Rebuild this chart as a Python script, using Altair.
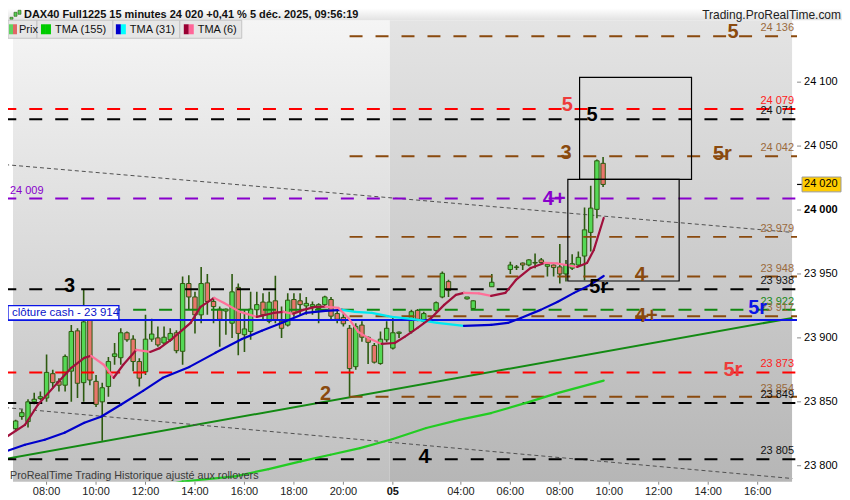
import altair as alt
import pandas as pd

FONT = "Liberation Sans"
PLOT_W, PLOT_H = 790, 462
X_DOMAIN = [-5.43, 120.56]
Y_DOMAIN = [23787.5, 24148.4]
SESSION_SPLIT = 55.5   # between 4 déc. 21:45 and first bar of 5 déc.

# ---------------- data ----------------
title_text = "DAX40 Full1225 15 minutes 24 020 +0,41 % 5 déc. 2025, 09:56:19"
site_text = "Trading.ProRealTime.com"
watermark = "ProRealTime Trading  Historique ajusté aux rollovers"

# x = 15-minute bar index (0 = 4 déc. 08:00, 56 = first bar of 5 déc.)
tick_idx = [0, 8, 16, 24, 32, 40, 48, 56, 67, 75, 83, 91, 99, 107, 115]
tick_lab = ["08:00", "10:00", "12:00", "14:00", "16:00", "18:00", "20:00", "05",
            "04:00", "06:00", "08:00", "10:00", "12:00", "14:00", "16:00"]
day_tick = 56
y_ticks = [23800, 23850, 23900, 23950, 24000, 24050, 24100]
bold_y_tick = 24000

c_idx = [-5, -4, -3, -2, -1, 0, 1, 2, 3, 4,
         5, 6, 7, 8, 9, 10, 11, 12, 13, 14,
         15, 16, 17, 18, 19, 20, 21, 22, 23, 24,
         25, 26, 27, 28, 29, 30, 31, 32, 33, 34,
         35, 36, 37, 38, 39, 40, 41, 42, 43, 44,
         45, 46, 47, 48, 49, 50, 51, 52, 53, 54,
         55, 56, 57, 59, 60, 61, 63, 64, 65, 68,
         69, 72, 75, 76, 77, 78, 79, 80, 81, 82,
         83, 84, 85, 86, 87, 88, 89, 90]
c_open = [23829, 23838.5, 23834.5, 23850, 23852.5, 23853, 23872, 23866, 23863, 23874,
          23905.5, 23865, 23914, 23866, 23850, 23862, 23885.5, 23884.5, 23904, 23899,
          23881.5, 23873.5, 23899, 23900, 23896, 23898.5, 23904, 23889.5, 23942.5, 23932,
          23918, 23943, 23928.5, 23922.5, 23921, 23911.5, 23939.5, 23902.5, 23905, 23922,
          23928, 23913, 23929, 23913, 23910, 23930, 23929, 23925, 23924.5, 23923,
          23926, 23930, 23919, 23916, 23907.5, 23877.5, 23910, 23900.5, 23894, 23880,
          23898.5, 23892, 23903.5, 23905, 23921.5, 23913, 23921.5, 23932, 23944, 23930.5,
          23923, 23940, 23953.5, 23955, 23958.5, 23957, 23958.5, 23961, 23956, 23957,
          23955.5, 23950, 23954.5, 23957, 23964, 23982.5, 24000.5, 24036.5]
c_high = [23836, 23844, 23852, 23857, 23858, 23887, 23875, 23868.5, 23887, 23910,
          23907.5, 23937.5, 23918, 23871, 23865, 23885, 23896, 23907.5, 23905, 23902,
          23884, 23918, 23915, 23909, 23909, 23907.5, 23906, 23948, 23949, 23936,
          23955.5, 23950, 23932, 23924.5, 23923, 23950, 23942.5, 23922, 23936, 23936,
          23935, 23936, 23948.5, 23924.5, 23935, 23935, 23935, 23932, 23928.5, 23927,
          23933, 23932, 23922, 23919, 23910, 23911.5, 23913, 23901, 23896, 23905,
          23913, 23915.5, 23905, 23922, 23922.5, 23920.5, 23928.5, 23952, 23945.5, 23932,
          23929.5, 23950, 23959.5, 23957, 23959, 23961.5, 23966, 23962.5, 23958.5, 23957.5,
          23973.5, 23961, 23965.5, 23967.5, 24002, 24019, 24039.5, 24041.5]
c_low = [23827, 23836, 23830, 23848, 23851.5, 23850, 23860.5, 23858, 23858, 23850,
         23853, 23850, 23863, 23846, 23819.5, 23854, 23879, 23879, 23897, 23874,
         23862, 23871, 23897, 23893, 23894.5, 23897, 23888, 23879, 23922, 23903.5,
         23911.5, 23918, 23911.5, 23893, 23902.5, 23900, 23886.5, 23889, 23898.5, 23916.5,
         23914, 23911.5, 23911.5, 23900, 23909, 23916.5, 23918, 23918, 23918, 23911.5,
         23924.5, 23914, 23911.5, 23909, 23854, 23875, 23897, 23879.5, 23880, 23879,
         23896.5, 23891, 23900, 23903.5, 23913, 23911.5, 23920.5, 23931, 23932, 23930,
         23923, 23940, 23950, 23953, 23953, 23956, 23954.5, 23958, 23948, 23948,
         23942.5, 23944, 23953, 23955.5, 23945, 23967.5, 23993.5, 24018]
c_close = [23835, 23841.5, 23850, 23852, 23854, 23873, 23865, 23863, 23885.5, 23905,
           23864.5, 23912.5, 23867, 23848, 23861, 23881.5, 23887.5, 23904, 23898.5, 23881.5,
           23868.5, 23899, 23903, 23894.5, 23900.5, 23903.5, 23890, 23942.5, 23932, 23918,
           23942.5, 23928.5, 23924.5, 23914.5, 23922.5, 23936, 23903.5, 23907, 23922.5, 23926,
           23918, 23928, 23914, 23907.5, 23929.5, 23919.5, 23926, 23927, 23926, 23926,
           23932, 23917, 23914.5, 23911, 23876, 23909, 23900.5, 23896.5, 23881, 23899,
           23907.5, 23904, 23904.5, 23920.5, 23914.5, 23919, 23927.5, 23950.5, 23937, 23932,
           23929, 23943.5, 23957, 23955.5, 23957, 23961, 23959, 23959, 23957.5, 23955,
           23950, 23957, 23958, 23963, 23984.5, 24001.5, 24038.5, 24020]

# moving averages
t6_idx = [-6.7, -3.5, -1.4, 1.75, 4.0, 6.1, 7.2, 9.25, 10.85, 12.4, 14.5, 16.75, 18.3, 20.1, 23.3,
          24.9, 27.1, 28.7, 31.3, 34, 36.7, 38.3, 39.9, 41.5, 43.5, 45.1, 47.2, 48.8, 50.4, 52,
          54.2, 56.3, 57.9, 60, 62.2, 64.3, 66.2, 67.5, 69.9, 71.9, 74.2, 75.9, 78.3, 80.5, 82.6,
          85.8, 87.4, 88.5, 89.5, 90.1]
t6_val = [23821.9, 23832, 23847.7, 23864.8, 23876.6, 23884.4, 23886, 23879, 23868.8, 23879,
          23890.6, 23889, 23892, 23898.4, 23911.7, 23924.2, 23931.3, 23927.3, 23920.3, 23916.4,
          23919.5, 23920.3, 23918.8, 23921.9, 23924.2, 23924.4, 23923.4, 23915.6, 23904.7, 23900,
          23895.3, 23896, 23900.8, 23907.8, 23915.6, 23925.8, 23933.6, 23935.2, 23934.8, 23932.8,
          23935.2, 23945.3, 23954.7, 23958.6, 23958.2, 23955.5, 23958.6, 23968.8, 23984.4, 23993.8]
t31_idx = [-6.7, -3.5, -0.3, 2.9, 6.1, 8.8, 12, 15.6, 18.8, 23.1, 27.3, 31.6, 34.8, 38, 41.9,
           45.1, 47.8, 49.9, 52.6, 55.8, 59, 63.2, 67.5, 71.9, 74.6, 76.7, 79.9, 82.6, 85.3, 87.9, 90.1]
t31_val = [23811, 23816.4, 23820.3, 23825.8, 23833.6, 23838.3, 23847.7, 23858.6, 23868.75, 23877.3,
           23888.3, 23899.2, 23905.5, 23911.7, 23919.5, 23921.1, 23921.9, 23920.3, 23919.5, 23916.4,
           23914.8, 23911.7, 23909.4, 23910.2, 23911.7, 23915.6, 23921.9, 23928.1, 23935.2, 23941.4, 23948.4]
t155_idx = [20.4, 22.0, 30.5, 35.9, 41.1, 45.9, 50.7, 56.0, 61.4, 66.7, 71.9, 77.4, 82.6, 90.1]
t155_val = [23786, 23787.7, 23791.7, 23797.4, 23803.4, 23808.6, 23813.8, 23820.9, 23829.5,
            23835.9, 23841.2, 23849, 23856.8, 23866.6]

# trend lines (two end points each)
tr_name = ["green", "dot_hi", "dot_lo"]
tr_idx0 = [-6.7, -6.7, -6.7]
tr_idx1 = [120.6, 120.6, 120.6]
tr_val0 = [23805.2, 24035.5, 23845.5]
tr_val1 = [23915.6, 23982.5, 23790.0]

# horizontal levels
lvl_val = [24136, 24079, 24071, 24042, 24009, 23979, 23948, 23938, 23922, 23917, 23914, 23873, 23854, 23849, 23805]
lvl_kind = ["brown", "red", "black", "brown", "purple", "brown", "brown", "black", "green", "brown",
            "blue", "red", "brown", "black", "black"]
lvl_start = [49, -7, -7, 49, -7, 49, 49, -7, -7, 49, -7, -7, 49, -7, -7]

# labels at right end of levels
rl_val = [24136, 24079, 24071, 24042, 23979, 23948, 23938, 23922, 23917, 23873, 23854, 23849, 23805]
rl_kind = ["brown", "red", "black", "brown", "brown", "brown", "black", "green", "brown", "red",
           "brown", "black", "black"]

# big level names
bl_txt = ["5", "5", "5", "3", "5r", "4+", "4", "5r", "4+", "5r", "5r", "2", "3", "4"]
bl_idx = [111.0, 84.2, 88.2, 84.0, 109.3, 82.1, 96.0, 89.3, 97.0, 115.0, 111.0, 45.1, 3.7, 61.1]
bl_val = [24136, 24079, 24071, 24042, 24042, 24009, 23948, 23938, 23917, 23922, 23873, 23854, 23938, 23805]
bl_kind = ["brown", "red", "black", "brown", "brown", "purple", "brown", "black", "brown", "blue",
           "red", "brown", "black", "black"]

# zone boxes
bx_idx0 = [86.2, 84.3]
bx_idx1 = [104.3, 102.3]
bx_val0 = [24024, 23944.5]
bx_val1 = [24103.7, 24024]

last_price = 24020
cash_close = 23914
left_level = 24009

# legend
lg_names = ["Prix", "TMA (155)", "TMA (31)", "TMA (6)"]
lg_col_a = ["#5fd35f", "#00cc00", "#0000cc", "#990033"]
lg_col_b = ["#e06666", "#00cc00", "#00ffff", "#ff6699"]

# ---------------- styles / layout ----------------
LINE_COL = {"brown": "#8a4a0e", "red": "#ff0000", "black": "#000000", "purple": "#8800cc",
            "green": "#118811", "blue": "#0a14e6"}
LABEL_COL = {"brown": "#9a6a3c", "red": "#ff2020", "black": "#111111", "purple": "#8800cc",
             "green": "#1a8a1a", "blue": "#0a14e6"}
BIG_COL = {"brown": "#8a4a0e", "red": "#ee3b3b", "black": "#000000", "purple": "#8800cc",
           "green": "#118811", "blue": "#0a14e6"}
BIG_OFF = {"5": -4, "3": -3, "5r": -2, "4+": 0, "4": -2, "2": -3}
WICK = "#2d5a10"
LG_X0 = [0, 29, 105, 172]
LG_X1 = [29, 105, 172, 234]
LG_SW = [1, 33, 108, 176]
LG_SWW = [8, 10, 10, 10]
LG_TX = [11, 47, 122, 190]


def sp(v):
    s = "%d" % v
    return s[:-3] + " " + s[-3:]


xs = alt.Scale(domain=X_DOMAIN, nice=False, zero=False)
ys = alt.Scale(domain=Y_DOMAIN, nice=False, zero=False)


def X(f):
    return alt.X(f, scale=xs, axis=None)


def Y(f):
    return alt.Y(f, scale=ys, axis=None)


def grad(top, bottom):
    return alt.Gradient(gradient="linear",
                        stops=[alt.GradientStop(color=top, offset=0), alt.GradientStop(color=bottom, offset=1)],
                        x1=0, x2=0, y1=0, y2=1)


def one(**kw):
    return alt.Chart(pd.DataFrame({k: [v] for k, v in kw.items()} or {"k": [0]}))


layers = []

# background
bg = pd.DataFrame({"x0": [X_DOMAIN[0], SESSION_SPLIT], "x1": [SESSION_SPLIT, X_DOMAIN[1]]})
layers.append(alt.Chart(bg.iloc[[0]]).mark_rect(fill=grad("#f5f5f5", "#c0c0c0")).encode(
    x=X("x0:Q"), x2="x1:Q", y=alt.value(0), y2=alt.value(PLOT_H)))
layers.append(alt.Chart(bg.iloc[[1]]).mark_rect(fill=grad("#e4e4e4", "#b6b6b6")).encode(
    x=X("x0:Q"), x2="x1:Q", y=alt.value(0), y2=alt.value(PLOT_H)))

# trend lines
tr = pd.DataFrame({"name": tr_name, "i0": tr_idx0, "i1": tr_idx1, "v0": tr_val0, "v1": tr_val1})
layers.append(alt.Chart(tr[tr.name == "green"]).mark_rule(color="#138a13", strokeWidth=2, clip=True).encode(
    x=X("i0:Q"), x2="i1:Q", y=Y("v0:Q"), y2="v1:Q"))
layers.append(alt.Chart(tr[tr.name != "green"]).mark_rule(color="#505050", strokeWidth=1, strokeDash=[4, 3], clip=True).encode(
    x=X("i0:Q"), x2="i1:Q", y=Y("v0:Q"), y2="v1:Q"))

# candles
cd = pd.DataFrame({"idx": c_idx, "open": c_open, "high": c_high, "low": c_low, "close": c_close})
cd["dir"] = ["up" if c >= o else "down" for o, c in zip(c_open, c_close)]
layers.append(alt.Chart(cd).mark_rule(color=WICK, strokeWidth=1.6, clip=True).encode(
    x=X("idx:Q"), y=Y("low:Q"), y2="high:Q"))
layers.append(alt.Chart(cd).mark_bar(size=4.4, stroke=WICK, strokeWidth=1, clip=True).encode(
    x=X("idx:Q"), y=Y("open:Q"), y2="close:Q",
    color=alt.Color("dir:N", scale=alt.Scale(domain=["up", "down"], range=["#55d855", "#e8766c"]), legend=None)))

# levels
lv = pd.DataFrame({"val": lvl_val, "start": lvl_start,
                   "col": [LINE_COL[k] for k in lvl_kind],
                   "style": ["solid" if k == "blue" else "dash" for k in lvl_kind]})
layers.append(alt.Chart(lv).mark_rule(strokeWidth=2, clip=True).encode(
    x=X("start:Q"), x2=alt.value(PLOT_W), y=Y("val:Q"),
    color=alt.Color("col:N", scale=None),
    strokeDash=alt.StrokeDash("style:N", scale=alt.Scale(domain=["dash", "solid"], range=[[13, 13], [1, 0]]), legend=None)))


# moving averages as coloured segments (rising / falling)
def segs(name, xi, vv, up, dn):
    rows = []
    for i in range(len(xi) - 1):
        col = up if vv[i + 1] >= vv[i] else dn
        for j in (i, i + 1):
            rows.append({"seg": "%s%d" % (name, i), "idx": xi[j], "val": vv[j], "col": col})
    return rows


ma = pd.DataFrame(segs("a", t155_idx, t155_val, "#22cc22", "#22cc22") +
                  segs("b", t31_idx, t31_val, "#0000cc", "#00e8f0") +
                  segs("c", t6_idx, t6_val, "#a0103c", "#ff7099"))
layers.append(alt.Chart(ma).mark_line(strokeWidth=2.2, strokeCap="round", clip=True).encode(
    x=X("idx:Q"), y=Y("val:Q"), detail="seg:N", color=alt.Color("col:N", scale=None)))

# zone boxes
bx = pd.DataFrame({"i0": bx_idx0, "i1": bx_idx1, "v0": bx_val0, "v1": bx_val1})
layers.append(alt.Chart(bx).mark_rect(fillOpacity=0, stroke="#000000", strokeWidth=1.2, clip=True).encode(
    x=X("i0:Q"), x2="i1:Q", y=Y("v0:Q"), y2="v1:Q"))

# right-end value labels
rl = pd.DataFrame({"val": rl_val, "txt": [sp(v) for v in rl_val],
                   "col": [LABEL_COL[k] for k in rl_kind]})
layers.append(alt.Chart(rl).mark_text(font=FONT, fontSize=11, align="right", baseline="middle", dy=-8).encode(
    x=alt.value(PLOT_W - 3), y=Y("val:Q"), text="txt:N", color=alt.Color("col:N", scale=None)))

# big level names (grouped by vertical nudge)
bl = pd.DataFrame({"txt": bl_txt, "idx": bl_idx, "val": bl_val,
                   "col": [BIG_COL[k] for k in bl_kind], "off": [BIG_OFF[t] for t in bl_txt]})
for off in sorted(set(bl["off"])):
    layers.append(alt.Chart(bl[bl.off == off]).mark_text(
        font=FONT, fontSize=20, fontWeight="bold", align="center", baseline="middle", dy=off).encode(
        x=X("idx:Q"), y=Y("val:Q"), text="txt:N", color=alt.Color("col:N", scale=None)))

# left labels
lft = pd.DataFrame({"val": [left_level], "txt": [sp(left_level)]})
layers.append(alt.Chart(lft).mark_text(font=FONT, fontSize=11, align="left", baseline="middle", dy=-8,
                                       color="#8800cc").encode(x=alt.value(2), y=Y("val:Q"), text="txt:N"))
cash = pd.DataFrame({"v0": [cash_close], "v1": [cash_close + 11.2], "vm": [cash_close + 5.6],
                     "txt": ["clôture cash -  " + sp(cash_close)]})
layers.append(alt.Chart(cash).mark_rect(fill="white", stroke="#0a14e6", strokeWidth=1.3).encode(
    x=alt.value(0), x2=alt.value(111), y=Y("v0:Q"), y2="v1:Q"))
layers.append(alt.Chart(cash).mark_text(font=FONT, fontSize=11.5, align="left", baseline="middle", color="#0a14c8").encode(
    x=alt.value(4), y=Y("vm:Q"), text="txt:N"))

# watermark
layers.append(one(t=watermark).mark_text(
    font=FONT, fontSize=10.8, align="left", baseline="middle", color="#3a3a3a").encode(
    x=alt.value(2), y=alt.value(PLOT_H - 6), text="t:N"))

# ---- axes drawn from the tick lists through the scales ----
xt = pd.DataFrame({"i": tick_idx, "t": tick_lab})
xt["bold"] = [i == day_tick for i in tick_idx]
layers.append(alt.Chart(xt).mark_rule(color="#8a8a8a", strokeWidth=1).encode(
    x=X("i:Q"), y=alt.value(PLOT_H), y2=alt.value(PLOT_H + 3)))
layers.append(alt.Chart(xt[~xt.bold]).mark_text(font=FONT, fontSize=11, baseline="middle", color="#222222").encode(
    x=X("i:Q"), y=alt.value(PLOT_H + 10), text="t:N"))
layers.append(alt.Chart(xt[xt.bold]).mark_text(font=FONT, fontSize=11, fontWeight="bold", baseline="middle",
                                               color="#111111").encode(
    x=X("i:Q"), y=alt.value(PLOT_H + 10), text="t:N"))

yt = pd.DataFrame({"v": y_ticks, "t": [sp(v) for v in y_ticks]})
yt["bold"] = [v == bold_y_tick for v in y_ticks]
layers.append(alt.Chart(yt).mark_rule(color="#8a8a8a", strokeWidth=1).encode(
    x=alt.value(PLOT_W), x2=alt.value(PLOT_W + 4), y=Y("v:Q")))
layers.append(alt.Chart(yt[~yt.bold]).mark_text(font=FONT, fontSize=11, align="left", baseline="middle",
                                                color="#000000").encode(
    x=alt.value(PLOT_W + 7), y=Y("v:Q"), text="t:N"))
layers.append(alt.Chart(yt[yt.bold]).mark_text(font=FONT, fontSize=11, fontWeight="bold", align="left",
                                               baseline="middle", color="#000000").encode(
    x=alt.value(PLOT_W + 7), y=Y("v:Q"), text="t:N"))

# current price on axis
lp = pd.DataFrame({"v": [last_price], "v0": [last_price - 5.8], "v1": [last_price + 5.8],
                   "txt": [sp(last_price)]})
layers.append(alt.Chart(lp).mark_rule(color="black", strokeWidth=1.2).encode(
    x=alt.value(PLOT_W), x2=alt.value(PLOT_W + 5), y=Y("v:Q")))
layers.append(alt.Chart(lp).mark_rect(fill="#ffcc00", stroke="#9a9a9a", strokeWidth=1).encode(
    x=alt.value(PLOT_W + 5), x2=alt.value(PLOT_W + 44), y=Y("v0:Q"), y2="v1:Q"))
layers.append(alt.Chart(lp).mark_text(font=FONT, fontSize=11, align="left", baseline="middle", color="black").encode(
    x=alt.value(PLOT_W + 7), y=Y("v:Q"), text="txt:N"))

# header strip
layers.append(one().mark_rect(fill=grad("#ffffff", "#e2e2e2")).encode(
    x=alt.value(0), x2=alt.value(PLOT_W + 45), y=alt.value(-12), y2=alt.value(0)))
layers.append(one(t=title_text).mark_text(
    font=FONT, fontSize=11, fontWeight="bold", align="left", baseline="middle", color="#111111").encode(
    x=alt.value(16), y=alt.value(-5), text="t:N"))
layers.append(one(t=site_text).mark_text(
    font=FONT, fontSize=12, align="right", baseline="middle", color="#222222").encode(
    x=alt.value(PLOT_W + 44), y=alt.value(-5), text="t:N"))
for a, top, bot in [(2, -3, -1), (6, -8, -4), (10, -10, -6)]:
    layers.append(one().mark_rect(fill="#55cc55", stroke="#2d5a10", strokeWidth=0.6).encode(
        x=alt.value(a), x2=alt.value(a + 3), y=alt.value(top), y2=alt.value(bot)))

# legend row: boxes first, then swatches and names
for k in range(len(lg_names)):
    layers.append(one().mark_rect(fill="#e6e6e6", stroke="#c4c4c4", strokeWidth=1).encode(
        x=alt.value(LG_X0[k]), x2=alt.value(LG_X1[k]), y=alt.value(0), y2=alt.value(18)))
for k in range(len(lg_names)):
    half = LG_SWW[k] / 2
    layers.append(one().mark_rect(fill=lg_col_a[k]).encode(
        x=alt.value(LG_SW[k]), x2=alt.value(LG_SW[k] + half), y=alt.value(4), y2=alt.value(14)))
    layers.append(one().mark_rect(fill=lg_col_b[k]).encode(
        x=alt.value(LG_SW[k] + half), x2=alt.value(LG_SW[k] + LG_SWW[k]), y=alt.value(4), y2=alt.value(14)))
    layers.append(one(t=lg_names[k]).mark_text(font=FONT, fontSize=11, align="left", baseline="middle",
                                              color="#111111").encode(
        x=alt.value(LG_TX[k]), y=alt.value(9.5), text="t:N"))

chart = alt.layer(*layers).properties(
    width=PLOT_W, height=PLOT_H,
    padding={"left": 0, "top": 12, "right": 45, "bottom": 16},
    autosize=alt.AutoSizeParams(type="none"),
    background="white",
).configure_view(stroke=None)

chart.save("out.html", embed_options={"renderer": "svg", "actions": False})
